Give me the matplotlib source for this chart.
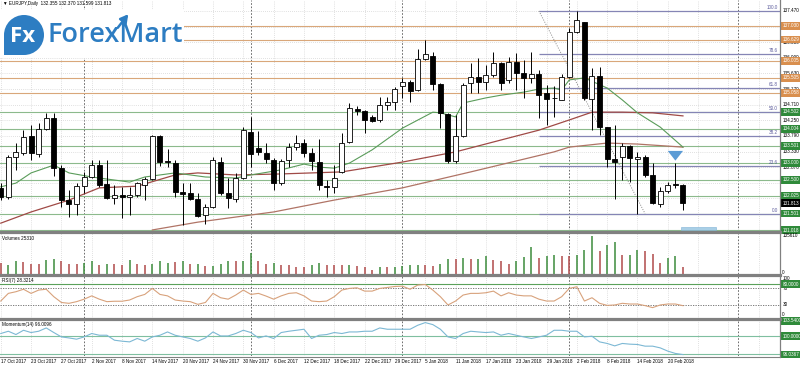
import matplotlib.pyplot as plt
from matplotlib.patches import Rectangle, Circle
from matplotlib.lines import Line2D

# EURJPY daily bars, 17 Oct 2017 .. 22 Feb 2018
opens = [132.26, 131.99, 133.17, 133.29, 133.79, 133.26, 134.00, 134.32, 132.84, 131.90,
         131.78, 132.31, 132.58, 132.93, 132.37, 131.96, 132.05, 131.99, 132.05, 132.34,
         132.52, 133.79, 133.05, 132.99, 132.14, 132.11, 131.93, 131.46, 131.70, 133.02,
         132.11, 131.93, 132.55, 133.91, 133.43, 133.29, 133.08, 132.40, 133.08, 133.46,
         133.58, 133.29, 133.02, 132.31, 132.29, 132.73, 133.61, 134.58, 134.52, 134.35,
         134.26, 134.70, 134.79, 135.26, 135.38, 135.14, 136.06, 136.14, 135.32, 134.44,
         133.05, 133.79, 135.35, 135.53, 135.38, 135.59, 135.94, 135.44, 135.97, 135.64,
         135.50, 135.61, 135.05, 134.91, 134.85, 135.53, 136.85, 137.15, 134.88, 135.56,
         134.05, 133.11, 133.17, 133.49, 133.11, 133.17, 132.64, 131.78, 132.17, 132.37,
         132.355]
highs = [132.40, 133.23, 133.58, 133.97, 134.11, 134.17, 134.47, 134.47, 132.93, 132.20,
         132.40, 132.73, 133.08, 133.08, 133.08, 132.34, 132.29, 132.29, 132.43, 132.58,
         133.82, 133.82, 133.40, 133.08, 132.40, 132.40, 132.11, 131.78, 133.17, 133.17,
         132.55, 132.70, 134.05, 134.35, 133.94, 133.58, 133.14, 133.11, 133.58, 133.82,
         133.70, 133.43, 133.70, 132.49, 132.93, 133.88, 134.76, 134.67, 134.55, 134.41,
         134.94, 134.94, 135.23, 135.50, 135.44, 136.35, 136.62, 136.26, 135.35, 134.47,
         134.41, 135.35, 135.94, 136.09, 135.88, 136.26, 135.97, 136.11, 136.23, 136.03,
         136.26, 135.73, 135.29, 135.26, 135.61, 136.97, 137.47, 137.15, 135.79, 135.82,
         134.05, 134.11, 133.58, 133.52, 133.32, 133.23, 132.99, 132.29, 132.43, 132.99,
         132.370]
lows = [131.90, 131.93, 132.79, 133.23, 133.08, 133.17, 133.97, 132.61, 131.70, 131.40,
        131.46, 132.11, 132.55, 132.29, 131.93, 131.78, 131.37, 131.46, 131.99, 131.90,
        132.49, 132.90, 132.87, 131.99, 131.17, 131.90, 131.40, 131.20, 131.67, 132.05,
        131.67, 131.84, 132.52, 132.87, 133.23, 132.99, 132.20, 132.34, 132.87, 133.38,
        133.17, 132.79, 132.20, 131.99, 132.11, 132.70, 133.58, 134.41, 133.88, 134.20,
        134.20, 134.55, 134.55, 134.91, 134.79, 135.11, 136.03, 135.14, 134.02, 132.99,
        132.99, 133.76, 135.05, 135.05, 135.14, 135.53, 135.14, 135.35, 135.14, 134.91,
        135.35, 134.32, 134.11, 134.35, 134.85, 135.50, 136.82, 134.85, 133.97, 133.82,
        132.87, 131.93, 132.49, 132.43, 131.50, 132.58, 131.78, 131.70, 132.11, 132.26,
        131.599]
closes = [131.99, 133.17, 133.32, 133.76, 133.29, 134.00, 134.32, 132.84, 131.90, 131.78,
          132.31, 132.58, 132.93, 132.34, 131.96, 132.05, 131.99, 132.05, 132.40, 132.52,
          133.79, 133.02, 133.02, 132.14, 132.08, 131.93, 131.43, 131.70, 133.08, 132.11,
          131.96, 132.55, 133.97, 133.26, 133.32, 133.11, 132.40, 133.05, 133.46, 133.58,
          133.29, 133.05, 132.34, 132.29, 132.55, 133.58, 134.61, 134.52, 134.26, 134.23,
          134.70, 134.79, 135.17, 135.38, 135.11, 136.06, 136.20, 135.32, 134.47, 133.05,
          133.79, 135.29, 135.53, 135.38, 135.59, 135.94, 135.35, 135.97, 135.64, 135.50,
          135.61, 134.99, 134.88, 134.90, 135.53, 136.85, 137.20, 134.91, 135.56, 134.05,
          133.11, 133.02, 133.49, 133.14, 133.17, 132.64, 131.81, 132.17, 132.34, 132.34,
          131.813]

volumes = [38000, 33000, 47000, 41000, 36500, 36500, 50600, 54200, 47000, 36500,
           36500, 39000, 44600, 33000, 35400, 35400, 33000, 49600, 36500, 30500,
           36500, 44600, 40000, 41000, 46000, 34000, 34000, 28300, 29400, 36500,
           46000, 44600, 47000, 74400, 47000, 36500, 40000, 30500, 30500, 25800,
           25800, 33000, 40000, 33000, 30500, 30500, 30500, 28300, 25800, 12700,
           25800, 23400, 25800, 27000, 33000, 33000, 33000, 28300, 36500, 54200,
           54200, 56600, 53000, 54200, 64800, 50600, 47000, 36500, 48000, 62300,
           96700, 57700, 64800, 68300, 64800, 64800, 65900, 85000, 135610, 82500,
           103700, 114400, 65900, 68300, 87100, 81400, 71900, 40000, 55200, 63700,
           25310]
volume_up = [0, 1, 1, 0, 0, 0, 1, 1, 0, 0,
             0, 1, 1, 0, 1, 0, 0, 1, 0, 0,
             1, 1, 1, 0, 1, 0, 1, 0, 1, 1,
             1, 0, 1, 1, 0, 0, 1, 0, 0, 0,
             0, 1, 1, 0, 0, 0, 1, 0, 0, 0,
             1, 0, 1, 1, 1, 1, 0, 0, 1, 1,
             0, 1, 0, 1, 1, 0, 0, 0, 1, 1,
             1, 0, 1, 1, 0, 0, 1, 1, 1, 0,
             1, 1, 0, 1, 1, 0, 0, 0, 1, 1,
             0]

rsi = [39.5, 58, 62, 68, 58, 66, 68, 50, 36, 34,
       38, 44, 52, 44, 38, 39, 39, 42, 50, 55.5,
       70, 55.5, 52, 42, 39.5, 38, 31.5, 36, 58, 47.5,
       44, 54, 66, 55.5, 58, 51.5, 44, 52, 58, 59.5,
       52, 39.5, 38, 39.5, 50, 66, 70, 71.5, 63.5, 63.5,
       70, 72.3, 74.7, 75.4, 68, 78, 79.5, 66, 50, 30,
       39.5, 54, 58, 58, 59.5, 63.5, 52, 59.5, 54, 52,
       52, 44, 39.5, 39.5, 50, 70, 74, 39.5, 47.5, 34,
       29, 30, 34, 32.3, 32.3, 28.4, 23.6, 30, 32.3, 32.3,
       28.32]

momentum = [100.54, 101.03, 100.32, 101.24, 100.75, 101.03, 101.74, 100.75, 99.81, 99.59,
            99.32, 99.81, 100.54, 100.17, 100.17, 99.10, 98.89, 98.74, 99.47, 98.89,
            99.81, 100.17, 100.88, 100.17, 99.81, 99.47, 98.89, 99.59, 100.88, 100.02,
            100.02, 100.54, 101.24, 100.75, 99.59, 100.02, 99.47, 100.75, 101.03, 101.24,
            101.46, 99.47, 100.17, 100.32, 100.75, 100.54, 100.88, 100.88, 101.03, 101.03,
            101.74, 101.46, 101.46, 101.46, 101.46, 102.31, 102.89, 102.46, 101.46, 99.81,
            99.47, 100.54, 101.03, 100.88, 100.75, 100.88, 100.17, 100.54, 100.17, 99.81,
            99.47, 99.81, 100.17, 101.24, 101.24, 101.03, 101.03, 99.81, 99.96, 98.74,
            98.40, 97.88, 98.40, 98.25, 98.18, 97.82, 97.82, 97.45, 96.75, 96.25,
            96.01]

# moving averages, read at a few bars
ma_fast_idx = [0, 2, 4, 7, 9, 12, 17, 19, 23, 25, 27, 31, 33, 37, 40, 42, 44, 46, 49, 53,
               57, 58, 60, 61, 64, 66, 69, 71, 73, 74, 75, 77, 80, 82, 84, 87, 90]
ma_fast_val = [132.29, 132.40, 132.70, 132.93, 132.70, 132.58, 132.43, 132.58, 132.70, 132.64,
               132.58, 132.55, 132.64, 132.79, 132.96, 132.87, 132.84, 132.99, 133.38, 134.02,
               134.49, 134.47, 134.35, 134.76, 134.91, 134.99, 135.08, 135.17, 135.20, 135.14,
               135.44, 135.50, 135.20, 134.85, 134.47, 134.05, 133.46]
ma_mid_idx = [0, 4, 9, 13, 18, 23, 26, 31, 37, 45, 53, 60, 66, 71, 75, 78, 82, 86, 90]
ma_mid_val = [131.22, 131.55, 131.90, 132.26, 132.31, 132.64, 132.70, 132.64, 132.67, 132.73,
              133.02, 133.32, 133.67, 133.96, 134.26, 134.49, 134.49, 134.47, 134.38]
ma_slow_idx = [20, 26, 36, 44, 53, 62, 73, 75, 80, 84, 90]
ma_slow_val = [131.02, 131.25, 131.55, 131.90, 132.26, 132.73, 133.32, 133.46, 133.58, 133.55, 133.46]

date_labels = ["17 Oct 2017", "23 Oct 2017", "27 Oct 2017", "2 Nov 2017", "8 Nov 2017",
               "14 Nov 2017", "20 Nov 2017", "24 Nov 2017", "30 Nov 2017", "6 Dec 2017",
               "12 Dec 2017", "18 Dec 2017", "22 Dec 2017", "29 Dec 2017", "5 Jan 2018",
               "11 Jan 2018", "17 Jan 2018", "23 Jan 2018", "29 Jan 2018", "2 Feb 2018",
               "8 Feb 2018", "14 Feb 2018", "20 Feb 2018"]
month_start_idx = [11, 33, 53, 75, 97.2]

price_ticks = [137.470, 136.550, 136.090, 135.630, 135.170, 134.710,
               134.250, 133.790, 133.330, 132.870, 132.410]
grid_prices = [137.470, 137.010, 136.550, 136.090, 135.630, 135.170, 134.710,
               134.250, 133.790, 133.330, 132.870, 132.410, 131.950, 131.490]
orange_levels = [137.030, 136.629, 136.005, 135.505, 135.058]
green_levels = [134.502, 134.004, 133.501, 133.000, 132.500, 132.025, 131.501, 131.018]
fib_names = ["100.0", "78.6", "61.8", "50.0", "38.2", "23.6", "0.0"]
fib_ratios = [1.0, 0.786, 0.618, 0.5, 0.382, 0.236, 0.0]
fib_high, fib_low = 137.47, 131.501
fib_start, fib_end = 71, 85

FS = 3.3
GRID = '#c4c4c4'
BULL_VOL = '#3c8c3c'
BEAR_VOL = '#b04a4a'
LBL_GREEN = '#2f8a3a'
LBL_ORANGE = '#d98f4e'

plt.rcParams['font.family'] = ['Liberation Sans', 'DejaVu Sans']

W, H = 800, 366
AX_R = 780      # pixel x of the price scale line
PX = 7.58       # pixels per bar
fig = plt.figure(figsize=(8, 3.66), dpi=100)


def pane(top, bottom):
    a = fig.add_axes([0, 1 - bottom / H, AX_R / W, (bottom - top) / H])
    a.set_xlim(-0.1, AX_R / PX - 0.1)
    for s in a.spines.values():
        s.set_visible(False)
    a.set_xticks([])
    a.set_yticks([])
    for i in range(0, 104, 4):
        a.axvline(i, color=GRID, lw=0.5, ls=(0, (1, 2)), zorder=0)
    for m in month_start_idx:
        a.axvline(m, color='#555555', lw=0.6, ls=(0, (2, 2)), zorder=0)
    return a


def right_label(a, y, text, fc=None):
    kw = dict(transform=a.get_yaxis_transform(), ha='left', va='center',
              fontsize=FS, color='black', clip_on=False, zorder=5)
    if fc:
        kw['bbox'] = dict(boxstyle='square,pad=0.3', fc=fc, ec='none')
        kw['color'] = 'white'
        kw['zorder'] = 6
    a.text(1.003, y, text, **kw)


# ---- main price pane ----
ax = pane(0, 231)
ax.set_ylim(130.989, 137.794)
for p in grid_prices:
    ax.axhline(p, color=GRID, lw=0.5, ls=(0, (1, 2)), zorder=0)
for p in price_ticks:
    right_label(ax, p, f"{p:.3f}")
for p in orange_levels:
    ax.axhline(p, color='#d9a77a', lw=0.8, zorder=1)
    right_label(ax, p, f"{p:.3f}", fc=LBL_ORANGE)
for p in green_levels:
    ax.axhline(p, color='#8cba8c', lw=0.8, zorder=1)
    right_label(ax, p, f"{p:.3f}", fc=LBL_GREEN)
right_label(ax, closes[-1], f"{closes[-1]:.3f}", fc='black')

for name, r in zip(fib_names, fib_ratios):
    lvl = fib_low + r * (fib_high - fib_low)
    ax.hlines(lvl, fib_start, 103, color='#8585b5', lw=0.9, zorder=1)
    ax.text(AX_R / PX - 0.35, lvl + 0.03, name, ha='right', va='bottom', fontsize=FS,
            color='#5c5c9c')
ax.plot([fib_start, fib_end], [fib_high, fib_low], color='#888888', lw=0.7, ls=(0, (1, 1.5)))

ax.plot(ma_slow_idx, ma_slow_val, color='#b07466', lw=0.9, zorder=2)
ax.plot(ma_mid_idx, ma_mid_val, color='#a04a46', lw=0.9, zorder=2)
ax.plot(ma_fast_idx, ma_fast_val, color='#5a9c5a', lw=0.8, zorder=2)

for i, (o, h, l, c) in enumerate(zip(opens, highs, lows, closes)):
    ax.vlines(i, l, h, color='black', lw=0.7, zorder=3)
    bottom = min(o, c)
    height = max(abs(c - o), 0.012)
    face = 'white' if c > o else 'black'
    ax.add_patch(Rectangle((i - 0.33, bottom), 0.66, height, fc=face, ec='black',
                           lw=0.6, zorder=4))

ax.annotate('', xy=(89, 132.98), xytext=(89, 133.42),
            arrowprops=dict(arrowstyle='simple,head_width=1.1,head_length=0.7,tail_width=0.45',
                            fc='#5b9bd5', ec='none'), zorder=6)
ax.add_patch(Rectangle((89.7, 131.03), 4.6, 0.08, fc='#a9cfe6', ec='#7fb2d6', lw=0.4, zorder=3))

# ---- volumes ----
axv = pane(233, 274)
axv.set_ylim(0, 146000)
axv.vlines(range(len(volumes)), 0, volumes,
           colors=[BULL_VOL if u else BEAR_VOL for u in volume_up], lw=1.1)
axv.text(0.003, 0.93, "Volumes 25310", transform=axv.transAxes, fontsize=FS, va='top')
right_label(axv, 135610, "135610")
right_label(axv, 6000, "0")

# ---- RSI ----
axr = pane(276, 318)
axr.set_ylim(-1.5, 100)
axr.axhline(80, color='#5aa05a', lw=0.8)
for lv in (70, 30):
    axr.axhline(lv, color='#666666', lw=0.6, ls=(0, (1.5, 1.5)))
axr.plot(range(len(rsi)), rsi, color='#d8a27c', lw=0.8)
axr.text(0.003, 0.95, "RSI(7) 28.3214", transform=axr.transAxes, fontsize=FS, va='top')
right_label(axr, 95, "100")
right_label(axr, 80, "80.0000", fc=LBL_GREEN)
right_label(axr, 70, "70")
right_label(axr, 30, "30")
right_label(axr, 6, "0")

# ---- Momentum ----
axm = pane(320, 356)
axm.set_ylim(95.7, 103.45)
axm.axhline(100, color='#7fbfa0', lw=0.8)
axm.axhline(96.0367, color='#7fbfa0', lw=0.8)
axm.plot(range(len(momentum)), momentum, color='#7cb8d4', lw=0.8)
axm.text(0.003, 0.95, "Momentum(14) 96.0096", transform=axm.transAxes, fontsize=FS, va='top')
right_label(axm, 103.3, "103.5400", fc=LBL_GREEN)
right_label(axm, 100, "100.0000", fc=LBL_GREEN)
right_label(axm, 96.0367, "96.0367", fc=LBL_GREEN)

for k, lab in enumerate(date_labels):
    axm.text(k * 4, -0.14, lab, transform=axm.get_xaxis_transform(), fontsize=FS,
             ha='left', va='center', clip_on=False)

# ---- frame lines, separators, logo ----
ol = fig.add_axes([0, 0, 1, 1], zorder=10)
ol.set_xlim(0, W)
ol.set_ylim(H, 0)
ol.axis('off')
ol.patch.set_alpha(0)
for y in (232, 275, 319):
    ol.add_line(Line2D([0, AX_R], [y, y], color='#808080', lw=2.3))
ol.add_line(Line2D([0, AX_R], [356.5, 356.5], color='#808080', lw=0.8))
ol.add_line(Line2D([AX_R, AX_R], [0, 357], color='#808080', lw=0.9))

ol.add_patch(Rectangle((0, 10), 184, 48, fc='white', ec='none'))
ol.text(3, 4, "\u25bc EURJPY,Daily  132.355 132.370 131.599 131.813", fontsize=FS,
        va='center', ha='left')
ol.add_patch(Circle((24, 35), 20, fc='#2d7dc2', ec='none'))
ol.add_patch(Rectangle((4, 35), 20, 20, fc='#2d7dc2', ec='none'))
ol.text(23, 36, "Fx", color='white', fontsize=16, ha='center', va='center',
        family='Open Sans', fontweight='bold')
ol.text(47, 35, "ForexMart", color='#2d7dc2', fontsize=19.5, ha='left', va='center',
        family='Open Sans', fontweight='semibold')
ol.annotate('', xy=(130, 12), xytext=(116, 30),
            arrowprops=dict(arrowstyle='-|>,head_width=0.25,head_length=0.45',
                            color='#2d7dc2', lw=1.8))

fig.savefig('out.png', dpi=100, facecolor='white')
